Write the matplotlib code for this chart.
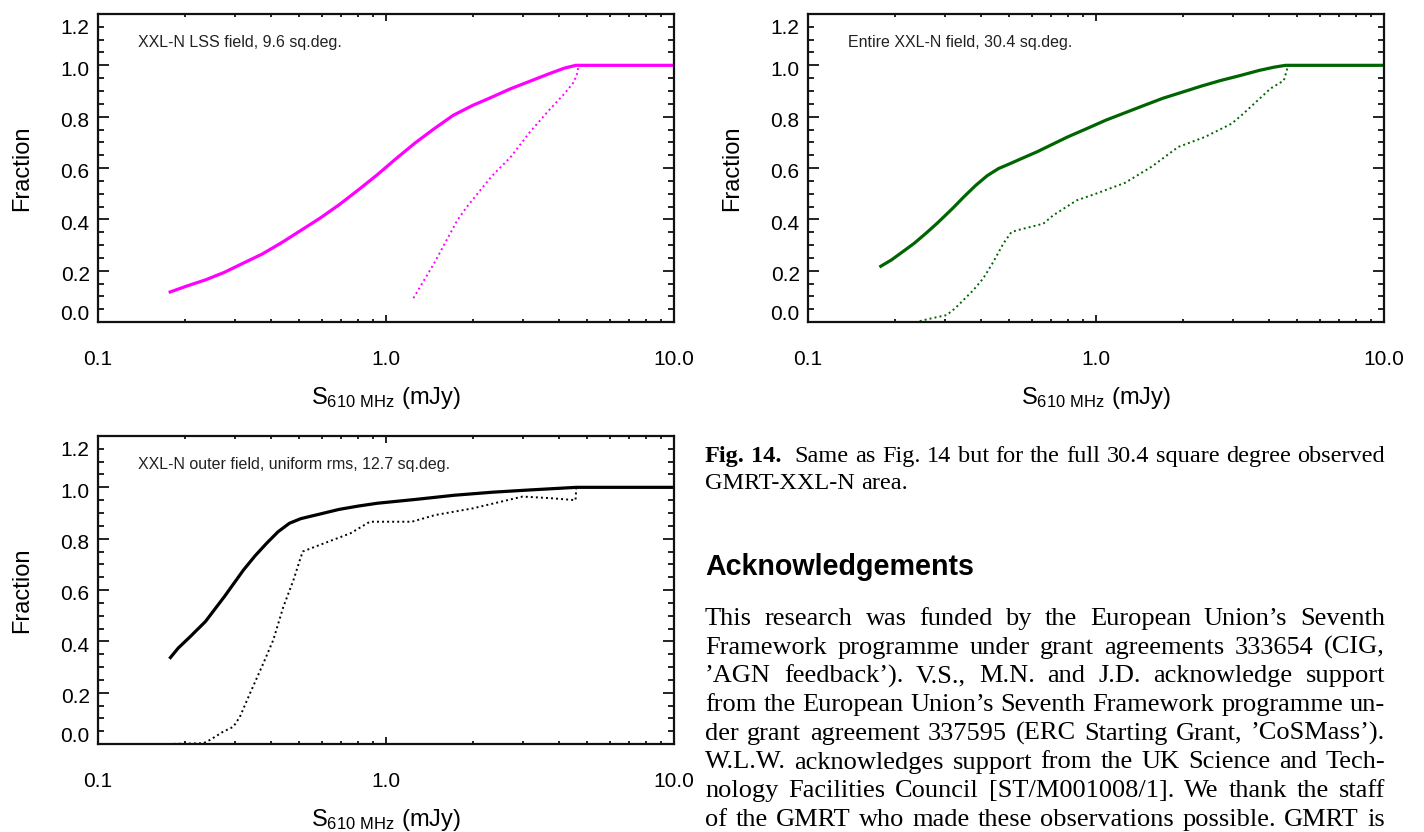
import numpy as np
import matplotlib
matplotlib.use('Agg')
import matplotlib.pyplot as plt
from matplotlib.ticker import MultipleLocator, LogLocator, NullFormatter
from matplotlib.transforms import ScaledTranslation

# ---------------- data ----------------
x_ticks = [0.1, 1.0, 10.0]
x_tick_labels = ['0.1', '1.0', '10.0']
y_ticks = [0.0, 0.2, 0.4, 0.6, 0.8, 1.0, 1.2]
y_tick_labels = ['0.0', '0.2', '0.4', '0.6', '0.8', '1.0', '1.2']

# panel 1: XXL-N LSS field
lss_s = [0.176, 0.202, 0.236, 0.274, 0.319, 0.372, 0.434, 0.505, 0.589, 0.686, 0.798, 0.931, 1.08,
         1.26, 1.47, 1.71, 2.0, 2.33, 2.71, 3.16, 3.68, 4.16, 4.56, 10.0]
lss_frac = [0.115, 0.139, 0.164, 0.193, 0.229, 0.265, 0.309, 0.356, 0.404, 0.456, 0.513, 0.573, 0.635,
            0.697, 0.753, 0.805, 0.844, 0.876, 0.909, 0.938, 0.967, 0.989, 1.0, 1.0]
lss_s_dot = [1.245, 1.47, 1.77, 1.91, 2.32, 2.71, 3.16, 3.68, 4.16, 4.49, 4.63, 4.65]
lss_frac_dot = [0.093, 0.229, 0.397, 0.449, 0.566, 0.643, 0.740, 0.825, 0.889, 0.935, 0.973, 1.0]

# panel 2: entire XXL-N field
all_s = [0.177, 0.195, 0.214, 0.234, 0.257, 0.281, 0.318, 0.348, 0.382, 0.419, 0.459, 0.503, 0.552,
         0.624, 0.705, 0.797, 0.927, 1.08, 1.26, 1.47, 1.71, 2.0, 2.32, 2.71, 3.16, 3.68, 4.16, 4.55, 10.0]
all_frac = [0.214, 0.242, 0.275, 0.307, 0.346, 0.385, 0.443, 0.488, 0.532, 0.570, 0.598, 0.617, 0.637,
            0.663, 0.692, 0.721, 0.753, 0.786, 0.815, 0.844, 0.872, 0.896, 0.919, 0.941, 0.960, 0.980,
            0.993, 1.0, 1.0]
all_s_dot = [0.177, 0.238, 0.258, 0.303, 0.324, 0.375, 0.406, 0.440, 0.477, 0.509, 0.544, 0.656, 0.711,
             0.857, 1.0, 1.26, 1.56, 1.93, 2.39, 2.96, 3.25, 4.03, 4.49, 4.63]
all_frac_dot = [0.0, 0.0, 0.010, 0.027, 0.053, 0.124, 0.17, 0.234, 0.306, 0.351, 0.360, 0.383, 0.416,
                0.474, 0.50, 0.542, 0.605, 0.682, 0.721, 0.773, 0.812, 0.909, 0.941, 0.993]

# panel 3: XXL-N outer field
out_s = [0.177, 0.190, 0.208, 0.236, 0.275, 0.320, 0.351, 0.385, 0.422, 0.462, 0.506, 0.590, 0.687,
         0.801, 0.933, 1.27, 1.72, 2.34, 3.18, 4.58, 10.0]
out_frac = [0.332, 0.374, 0.416, 0.477, 0.575, 0.678, 0.733, 0.782, 0.827, 0.860, 0.878, 0.896, 0.914,
            0.927, 0.938, 0.953, 0.969, 0.981, 0.990, 1.0, 1.0]
out_s_dot = [0.176, 0.232, 0.245, 0.272, 0.295, 0.311, 0.337, 0.375, 0.406, 0.440, 0.477, 0.502, 0.514,
             0.590, 0.753, 0.879, 1.23, 1.48, 2.0, 2.98, 3.70, 4.55, 4.58]
out_frac_dot = [0.0, 0.003, 0.016, 0.048, 0.067, 0.106, 0.197, 0.314, 0.405, 0.534, 0.638, 0.716, 0.750,
                0.776, 0.821, 0.866, 0.866, 0.892, 0.918, 0.964, 0.958, 0.950, 1.0]

panel_titles = ['XXL-N LSS field, 9.6 sq.deg.',
                'Entire XXL-N field, 30.4 sq.deg.',
                'XXL-N outer field, uniform rms, 12.7 sq.deg.']

caption_lines = [
    'Fig. 14.  Same as Fig. 14 but for the full 30.4 square degree observed',
    'GMRT-XXL-N area.',
]
heading = 'Acknowledgements'
body_lines = [
    'This research was funded by the European Union\u2019s Seventh',
    'Framework programme under grant agreements 333654 (CIG,',
    '\u2019AGN feedback\u2019). V.S., M.N. and J.D. acknowledge support',
    'from the European Union\u2019s Seventh Framework programme un-',
    'der grant agreement 337595 (ERC Starting Grant, \u2019CoSMass\u2019).',
    'W.L.W. acknowledges support from the UK Science and Tech-',
    'nology Facilities Council [ST/M001008/1]. We thank the staff',
    'of the GMRT who made these observations possible. GMRT is',
]

# ---------------- figure ----------------
plt.rcParams['font.family'] = ['Liberation Sans', 'DejaVu Sans']
plt.rcParams['mathtext.default'] = 'regular'

W, H = 1424, 832
fig = plt.figure(figsize=(W / 100, H / 100), dpi=100)


def rect(l, r, t, b):
    return [l / W, 1 - b / H, (r - l) / W, (b - t) / H]


ax1 = fig.add_axes(rect(98, 674, 14, 322))
ax2 = fig.add_axes(rect(808, 1384, 14, 322))
ax3 = fig.add_axes(rect(98, 674, 436, 744))


def style(ax, title):
    ax.set_xscale('log')
    ax.set_xlim(0.1, 10)
    ax.set_ylim(0, 1.2)
    ax.set_xticks(x_ticks)
    ax.set_xticklabels(x_tick_labels)
    ax.xaxis.set_minor_locator(LogLocator(base=10, subs=np.arange(2, 10)))
    ax.xaxis.set_minor_formatter(NullFormatter())
    ax.set_yticks(y_ticks)
    ax.set_yticklabels(y_tick_labels)
    ax.yaxis.set_minor_locator(MultipleLocator(0.05))
    ax.tick_params(which='both', direction='in', top=True, right=True, width=1.3, color='#111111')
    ax.tick_params(axis='y', which='major', length=8, pad=6, labelsize=15)
    ax.tick_params(axis='y', which='minor', length=4)
    ax.tick_params(axis='x', which='major', length=5, pad=20, labelsize=15)
    ax.tick_params(axis='x', which='minor', length=2.5)
    for s in ax.spines.values():
        s.set_linewidth(1.6)
        s.set_color('#111111')
    ax.set_xlabel(r'$\mathregular{S_{610\ MHz}}$ (mJy)', fontsize=17, labelpad=12)
    ax.set_ylabel('Fraction', fontsize=17, labelpad=20)
    ax.text(0.069, 0.906, title, transform=ax.transAxes, fontsize=11.5,
            va='center', ha='left', color='#222222')
    # IDL-like placement of the y tick labels
    ticks = ax.yaxis.get_major_ticks()
    offsets = [9, -3, -3, -3, -3, -3, -12]
    for tk, dy in zip(ticks, offsets):
        lab = tk.label1
        lab.set_transform(lab.get_transform() + ScaledTranslation(0, dy / 100, fig.dpi_scale_trans))


for ax, t in zip([ax1, ax2, ax3], panel_titles):
    style(ax, t)

dot = (0, (1, 1.6))
ax1.plot(lss_s, lss_frac, color='#ff00ff', lw=2.3, solid_capstyle='butt')
ax1.plot(lss_s_dot, lss_frac_dot, color='#ff00ff', lw=1.4, ls=dot)
ax2.plot(all_s, all_frac, color='#006400', lw=2.3, solid_capstyle='butt')
ax2.plot(all_s_dot, all_frac_dot, color='#006400', lw=1.4, ls=dot)
ax3.plot(out_s, out_frac, color='black', lw=2.3, solid_capstyle='butt')
ax3.plot(out_s_dot, out_frac_dot, color='black', lw=1.4, ls=dot)

# ---------------- text column ----------------
renderer = fig.canvas.get_renderer()
X0, X1 = 705, 1385
serif = ['Liberation Serif', 'DejaVu Serif']


def natural_width(line, size, family, weight='normal'):
    t = fig.text(0, 0, line, fontsize=size, family=family, weight=weight)
    w = t.get_window_extent(renderer).width
    t.remove()
    return w


def fit_size(lines, target, family):
    return min(10 * target / natural_width(l, 10, family) for l in lines)


def place_line(line, baseline, size, family, justify=True, bold_words=0):
    words = line.split()
    texts = []
    for i, w in enumerate(words):
        t = fig.text(0, 0, w, fontsize=size, family=family,
                     weight='bold' if i < bold_words else 'normal',
                     va='baseline', ha='left', color='black')
        texts.append(t)
    widths = [t.get_window_extent(renderer).width for t in texts]
    sp = natural_width('a a', size, family) - natural_width('aa', size, family)
    extra = [0.0] * len(words)
    if bold_words and len(words) > bold_words:
        extra[bold_words - 1] = sp
    if justify and len(words) > 1:
        gap = (X1 - X0 - sum(widths) - sum(extra)) / (len(words) - 1)
    else:
        gap = sp
    x = X0
    for t, w, e in zip(texts, widths, extra):
        t.set_position((x / W, 1 - baseline / H))
        x += w + gap + e


cap_size = min(fit_size([caption_lines[0]], 676, serif), 17.5)
body_size = min(fit_size(body_lines, 682, serif), 19.0)

place_line(caption_lines[0], 462, cap_size, serif, justify=True, bold_words=2)
place_line(caption_lines[1], 489, cap_size, serif, justify=False)
fig.text(X0 / W, 1 - 575 / H, heading, fontsize=20.6, weight='bold',
         family=['Liberation Sans', 'DejaVu Sans'], va='baseline', ha='left')
for i, line in enumerate(body_lines):
    place_line(line, 625 + 28.7 * i, body_size, serif, justify=True)

fig.savefig('out.png', dpi=100)
